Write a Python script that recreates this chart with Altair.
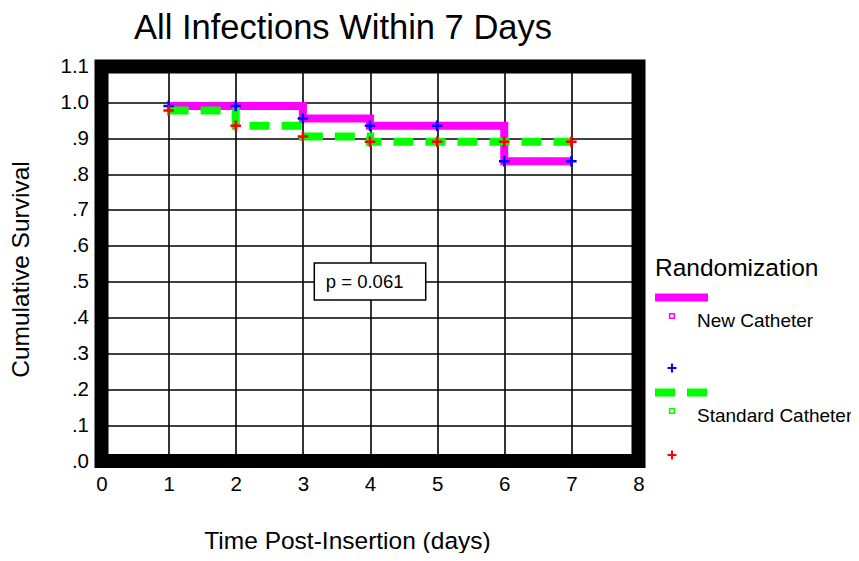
import altair as alt
import pandas as pd

# ---------------- data ----------------
days = [1, 2, 3, 4, 5, 6, 7]
new_surv = [0.99, 0.99, 0.955, 0.935, 0.935, 0.836, 0.836]
std_surv = [0.977, 0.935, 0.905, 0.89, 0.89, 0.89, 0.89]
groups = ["New Catheter", "Standard Catheter"]
x_ticks = [0, 1, 2, 3, 4, 5, 6, 7, 8]
y_ticks = [0.0, 0.1, 0.2, 0.3, 0.4, 0.5, 0.6, 0.7, 0.8, 0.9, 1.0, 1.1]
chart_title = ["All Infections Within 7 Days"]
x_title = "Time Post-Insertion (days)"
y_title = "Cumulative Survival"
legend_title = "Randomization"
p_text = ["p = 0.061"]
p_pos_x = [3.92]
p_pos_y = [0.5]
p_box_x = [3.17, 4.83]
p_box_y = [0.449, 0.552]

FONT = "Liberation Sans"
MAGENTA = "#ff00ff"
GREEN = "#00ff00"
BLUE = "#0000ff"
RED = "#ff0000"
PLUS = "M-1,0H1M0,-1V1"

new_df = pd.DataFrame({"day": days, "surv": new_surv})
std_df = pd.DataFrame({"day": days, "surv": std_surv})
box_df = pd.DataFrame({"day": [p_box_x[0]], "day2": [p_box_x[1]],
                       "surv": [p_box_y[0]], "surv2": [p_box_y[1]]})
ptxt_df = pd.DataFrame({"day": p_pos_x, "surv": p_pos_y, "label": p_text})

x_enc = alt.X("day:Q",
              scale=alt.Scale(domain=[0, 8], nice=False, zero=False),
              axis=alt.Axis(values=x_ticks, title=x_title, format="d",
                            grid=True, ticks=False, domain=False,
                            labelFlush=False,
                            labelPadding=13, labelFontSize=20.5,
                            titleFontSize=24.5, titleX=245.5, titleY=87,
                            titleAlign="center", titleBaseline="alphabetic",
                            titleAnchor="start"))
y_enc = alt.Y("surv:Q",
              scale=alt.Scale(domain=[0, 1.1], nice=False, zero=False),
              axis=alt.Axis(values=y_ticks, title=y_title,
                            labelExpr="datum.value >= 1 ? format(datum.value, '.1f') : replace(format(datum.value, '.1f'), '0.', '.')",
                            grid=True, ticks=False, domain=False,
                            labelPadding=13, labelFontSize=20.5,
                            titleFontSize=24.5, titleX=-80, titleY=202.5,
                            titleAlign="center", titleBaseline="middle",
                            titleAnchor="start"))

new_line = alt.Chart(new_df).mark_line(
    interpolate="step-after", color=MAGENTA, strokeWidth=8, strokeCap="butt"
).encode(x=x_enc, y=y_enc)

std_line = alt.Chart(std_df).mark_line(
    interpolate="step-after", color=GREEN, strokeWidth=8, strokeDash=[20, 12],
    strokeCap="butt"
).encode(x=x_enc, y=y_enc)

new_pts = alt.Chart(new_df).mark_point(
    shape=PLUS, filled=False, color=BLUE, strokeWidth=2.5, size=110, opacity=1
).encode(x=x_enc, y=y_enc)

std_pts = alt.Chart(std_df).mark_point(
    shape=PLUS, filled=False, color=RED, strokeWidth=2.5, size=110, opacity=1
).encode(x=x_enc, y=y_enc)

box = alt.Chart(box_df).mark_rect(
    fill="white", stroke="black", strokeWidth=1.5
).encode(x=x_enc, x2="day2:Q", y=y_enc, y2="surv2:Q")

ptxt = alt.Chart(ptxt_df).mark_text(
    font=FONT, fontSize=18.5, color="black", align="center", baseline="middle"
).encode(x=x_enc, y=y_enc, text="label:N")

# ---------------- chart title (as a text mark) ----------------
title_df = pd.DataFrame({"label": chart_title})
title_mark = alt.Chart(title_df).mark_text(
    font=FONT, fontSize=34.5, align="center", baseline="alphabetic", color="black"
).encode(x=alt.value(241.5), y=alt.value(-27.5), text="label:N")

# ---------------- hand-drawn legend ----------------
leg_title_df = pd.DataFrame({"label": [legend_title]})
leg_lab1_df = pd.DataFrame({"label": [groups[0]]})
leg_lab2_df = pd.DataFrame({"label": [groups[1]]})
one = pd.DataFrame({"k": [0]})

leg_title = alt.Chart(leg_title_df).mark_text(
    font=FONT, fontSize=24.5, align="left", baseline="middle", color="black"
).encode(x=alt.value(553.5), y=alt.value(202.5), text="label:N")

leg_bar1 = alt.Chart(one).mark_rule(color=MAGENTA, strokeWidth=8).encode(
    x=alt.value(553.5), x2=alt.value(606.5), y=alt.value(231))
leg_sq1 = alt.Chart(one).mark_point(
    shape="square", filled=False, color=MAGENTA, size=22, strokeWidth=1.5, opacity=1
).encode(x=alt.value(570.5), y=alt.value(249.5))
leg_lab1 = alt.Chart(leg_lab1_df).mark_text(
    font=FONT, fontSize=19, align="left", baseline="middle", color="black"
).encode(x=alt.value(595.5), y=alt.value(254.5), text="label:N")
leg_plus1 = alt.Chart(one).mark_point(
    shape=PLUS, filled=False, color=BLUE, size=80, strokeWidth=2, opacity=1
).encode(x=alt.value(570.5), y=alt.value(301.5))

leg_bar2 = alt.Chart(one).mark_rule(color=GREEN, strokeWidth=8,
                                    strokeDash=[20, 12]).encode(
    x=alt.value(553.5), x2=alt.value(606.5), y=alt.value(326))
leg_sq2 = alt.Chart(one).mark_point(
    shape="square", filled=False, color=GREEN, size=22, strokeWidth=1.5, opacity=1
).encode(x=alt.value(570.5), y=alt.value(344.5))
leg_lab2 = alt.Chart(leg_lab2_df).mark_text(
    font=FONT, fontSize=19, align="left", baseline="middle", color="black"
).encode(x=alt.value(595.5), y=alt.value(349.5), text="label:N")
leg_plus2 = alt.Chart(one).mark_point(
    shape=PLUS, filled=False, color=RED, size=80, strokeWidth=2, opacity=1
).encode(x=alt.value(570.5), y=alt.value(388.5))

chart = alt.layer(
    new_line, std_line, new_pts, std_pts, box, ptxt, title_mark,
    leg_title, leg_bar1, leg_sq1, leg_lab1, leg_plus1,
    leg_bar2, leg_sq2, leg_lab2, leg_plus2
).properties(
    width=537, height=394.5,
    autosize=alt.AutoSizeParams(type="none"),
    padding={"left": 93.5, "top": 58.5, "right": 212.5, "bottom": 92},
    background="white",
).configure_view(
    stroke="black", strokeWidth=14, fill="white"
).configure_axis(
    labelFont=FONT, titleFont=FONT, labelColor="black", titleColor="black",
    titleFontWeight="normal", gridColor="black", gridWidth=1.6, gridOpacity=1
)

chart.save("out.html", embed_options={"renderer": "svg", "actions": False})
